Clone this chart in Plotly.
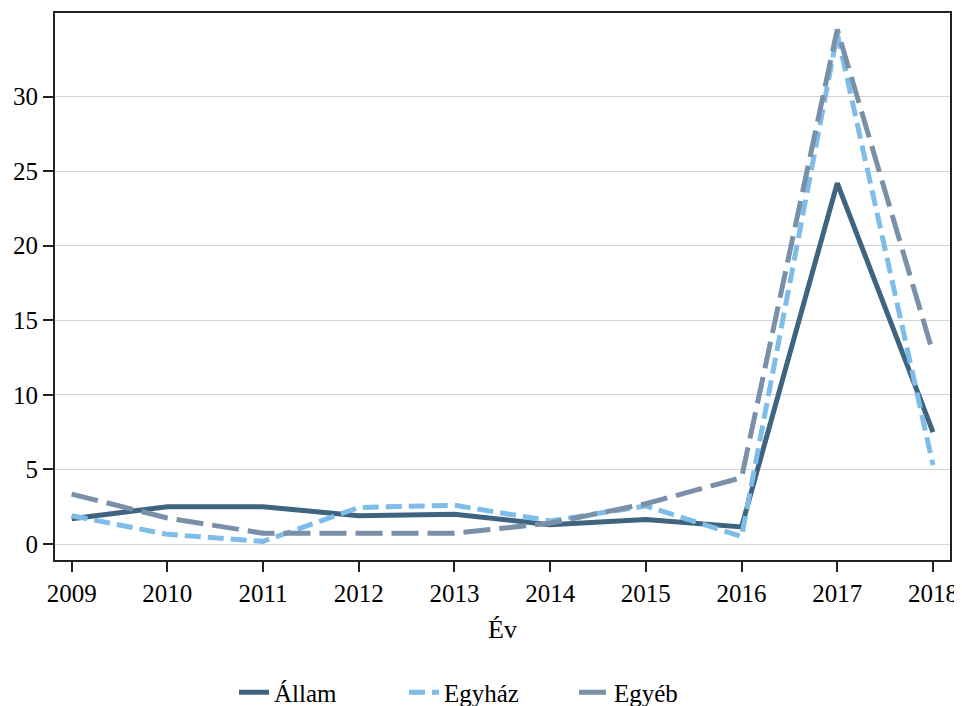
import plotly.graph_objects as go

years = [2009, 2010, 2011, 2012, 2013, 2014, 2015, 2016, 2017, 2018]
allam = [1.7, 2.5, 2.5, 1.9, 2.0, 1.3, 1.65, 1.15, 24.2, 7.5]
egyhaz = [1.9, 0.65, 0.18, 2.45, 2.6, 1.55, 2.55, 0.5, 34.2, 5.3]
egyeb = [3.35, 1.75, 0.72, 0.68, 0.72, 1.4, 2.7, 4.45, 34.5, 12.8]

C_ALLAM = "#3e6480"
C_EGYHAZ = "#7dbde8"
C_EGYEB = "#7a90a8"
FONT = "'Liberation Serif', 'Times New Roman', serif"

fig = go.Figure()
fig.add_trace(go.Scatter(x=years, y=allam, name="Állam", mode="lines",
                         line=dict(color=C_ALLAM, width=5)))
fig.add_trace(go.Scatter(x=years, y=egyhaz, name="Egyház", mode="lines",
                         line=dict(color=C_EGYHAZ, width=5, dash="16px,7px")))
fig.add_trace(go.Scatter(x=years, y=egyeb, name="Egyéb", mode="lines",
                         line=dict(color=C_EGYEB, width=5, dash="27px,9px")))

# the page body adds an 8px offset, so the figure is 8px smaller
fig.update_layout(
    width=954, height=698,
    paper_bgcolor="white", plot_bgcolor="white",
    font=dict(family=FONT, size=25, color="black"),
    margin=dict(l=47, r=12, t=5, b=146, autoexpand=False),
    showlegend=True,
    legend=dict(orientation="h", x=0.2, xanchor="left", y=-0.2,
                yanchor="top", font=dict(size=25),
                entrywidth=125, entrywidthmode="pixels",
                bgcolor="rgba(0,0,0,0)"),
)
fig.update_xaxes(
    range=[2008.826, 2018.178], tickmode="array", tickvals=years,
    showgrid=False, zeroline=False, automargin=False,
    showline=True, linecolor="#222", linewidth=2, mirror=True,
    ticks="outside", ticklen=10, tickcolor="#222", tickwidth=1.5,
    title=dict(text="Év", font=dict(size=26), standoff=14),
)
fig.update_yaxes(
    range=[-1.07, 35.6], tickmode="array", tickvals=[0, 5, 10, 15, 20, 25, 30],
    showgrid=True, gridcolor="#d3d3d3", gridwidth=1, zeroline=False,
    automargin=False,
    showline=True, linecolor="#222", linewidth=2, mirror=True,
    ticks="outside", ticklen=10, tickcolor="#222", tickwidth=1.5,
)

fig.write_html("out.html")
